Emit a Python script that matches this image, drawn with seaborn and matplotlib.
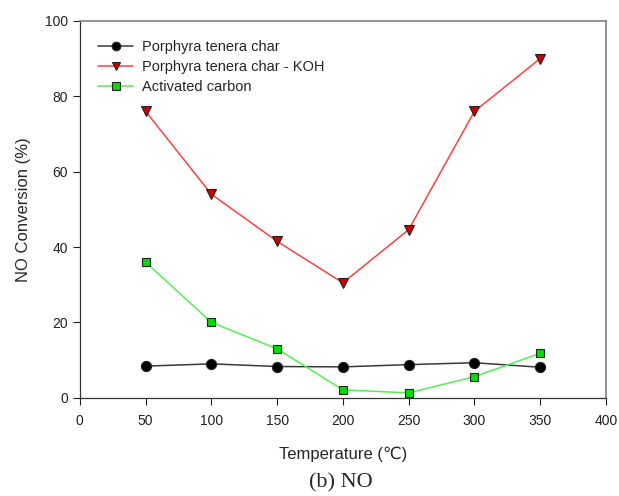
import matplotlib
matplotlib.use("Agg")
import matplotlib.pyplot as plt
import seaborn as sns
import pandas as pd

temps = [50, 100, 150, 200, 250, 300, 350]
char = [8.4, 9.0, 8.3, 8.2, 8.8, 9.3, 8.1]
char_koh = [76.0, 54.0, 41.5, 30.5, 44.6, 76.0, 90.0]
act_carbon = [36.0, 20.0, 13.0, 2.1, 1.3, 5.6, 11.8]

sns.set_style("ticks")
plt.rcParams["font.family"] = ["Liberation Sans", "DejaVu Sans"]

fig = plt.figure(figsize=(6.19, 4.96), dpi=100)
ax = fig.add_axes([0.129, 0.198, 0.85, 0.76])

series = [
    ("Porphyra tenera char", char, "#3a3a3a", "o", "black", 7.3),
    ("Porphyra tenera char - KOH", char_koh, "#ff4040", "v", "#cc0000", 7),
    ("Activated carbon", act_carbon, "#55ee55", "s", "#00dd00", 6),
]
for name, vals, lc, mk, mfc, ms in series:
    df = pd.DataFrame({"T": temps, "v": vals})
    sns.lineplot(data=df, x="T", y="v", ax=ax, color=lc, lw=1.1, marker=mk,
                 markersize=ms, markerfacecolor=mfc, markeredgecolor="#222222",
                 markeredgewidth=0.8, label=name)

ax.set_xlim(0, 400)
ax.set_ylim(0, 100)
ax.set_xticks(range(0, 401, 50))
ax.set_yticks(range(0, 101, 20))
ax.tick_params(direction="out", length=5, width=0.8, labelsize=10, colors="#222222")
ax.tick_params(axis="x", pad=7)
for side in ["left", "bottom"]:
    ax.spines[side].set_linewidth(0.9)
    ax.spines[side].set_color("#333333")
for side in ["top", "right"]:
    ax.spines[side].set_linewidth(1.2)
    ax.spines[side].set_color("#808080")
ax.set_xlabel("Temperature (℃)", fontsize=12, labelpad=13)
ax.set_ylabel("NO Conversion (%)", fontsize=12, labelpad=10)
ax.legend(loc="upper left", frameon=False, fontsize=10.5, handlelength=2.4,
          borderaxespad=0.5, labelspacing=0.42, handletextpad=0.6,
          markerscale=0.85, bbox_to_anchor=(0.01, 0.985))

fig.text(0.551, 0.026, "(b) NO", ha="center", va="center", fontsize=16,
         family="Liberation Serif")

fig.savefig("out.png", dpi=100)
